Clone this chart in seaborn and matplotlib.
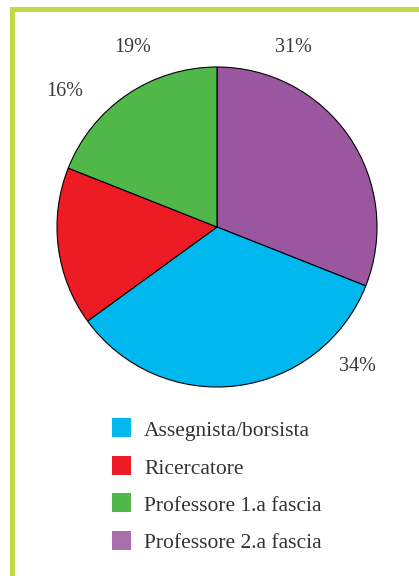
import matplotlib
matplotlib.use('Agg')
import matplotlib.pyplot as plt
import seaborn as sns
from matplotlib.patches import Rectangle

# Data (clockwise from 12 o'clock)
categories = ['Professore 2.a fascia', 'Assegnista/borsista', 'Ricercatore', 'Professore 1.a fascia']
values = [31, 34, 16, 19]
pie_colors = ['#9b56a0', '#00b7ee', '#ed1c24', '#50b848']

# Legend order and colours
legend_labels = ['Assegnista/borsista', 'Ricercatore', 'Professore 1.a fascia', 'Professore 2.a fascia']
legend_colors = ['#00b7ee', '#ed1c24', '#50b848', '#ab6eac']

# Label placement (in pie radius units)
label_pos = [(0.475, 1.125), (0.88, -0.87), (-0.95, 0.845), (-0.525, 1.125)]

sns.set_theme(style='white')
plt.rcParams['font.family'] = ['Liberation Serif', 'DejaVu Serif']

W, H = 419, 576
fig = plt.figure(figsize=(W / 100, H / 100), dpi=100)
fig.patch.set_facecolor('white')

# Pie axes: centre at (217, 227) px, radius 160 px
cx, cy, half = 217, 576 - 227, 200
ax = fig.add_axes([(cx - half) / W, (cy - half) / H, 2 * half / W, 2 * half / H])
ax.pie(values, colors=pie_colors, startangle=90, counterclock=False,
       wedgeprops=dict(edgecolor='black', linewidth=0.8))
ax.set_xlim(-1.25, 1.25)
ax.set_ylim(-1.25, 1.25)
ax.set_aspect('auto')
ax.axis('off')

for v, (x, y) in zip(values, label_pos):
    ax.text(x, y, f'{v}%', ha='center', va='center', fontsize=14.5, color='#3a3a3a')

# Frame (green bars on top and left)
frame_color = '#c3d845'
fig.add_artist(Rectangle((10 / W, 0), 5 / W, (H - 7) / H, transform=fig.transFigure,
                         color=frame_color, lw=0))
fig.add_artist(Rectangle((10 / W, (H - 12) / H), (W - 10) / W, 5 / H, transform=fig.transFigure,
                         color=frame_color, lw=0))

# Legend
for i, (lab, col) in enumerate(zip(legend_labels, legend_colors)):
    top = 418 + i * 37.5
    fig.add_artist(Rectangle((112 / W, (H - top - 19) / H), 19 / W, 19 / H,
                             transform=fig.transFigure, color=col, lw=0))
    fig.text(144 / W, (H - top - 18) / H, lab, ha='left', va='baseline',
             fontsize=15.5, color='#333333')

fig.savefig('out.png', dpi=100)
